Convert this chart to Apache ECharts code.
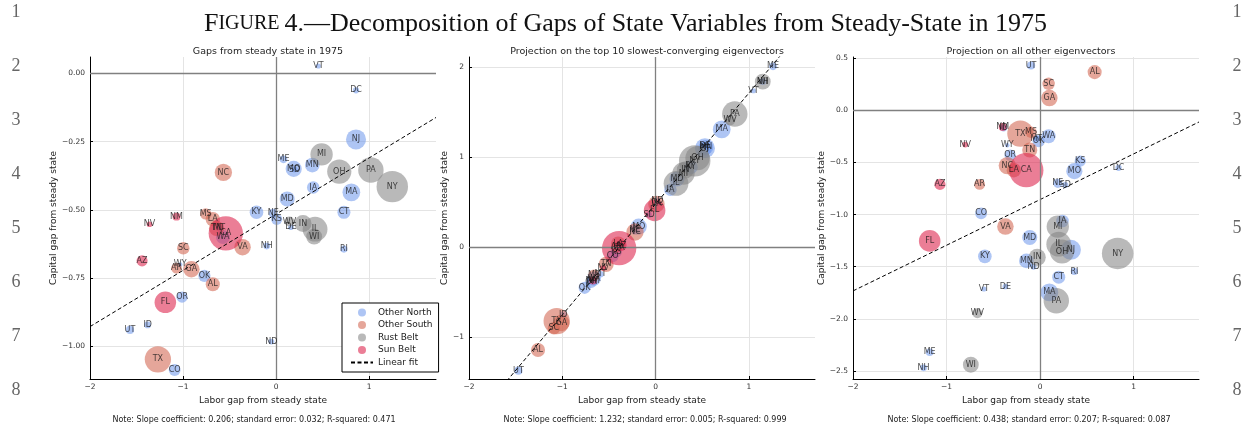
<!DOCTYPE html>
<html>
<head>
<meta charset="utf-8">
<script src="https://cdn.jsdelivr.net/npm/echarts@6/dist/echarts.min.js"></script>
<style>
html, body { margin: 0; padding: 0; background: #fff; }
#chart { width: 1251px; height: 426px; }
</style>
</head>
<body>
<div id="chart"></div>
<script>
// States (48 contiguous + DC), in a fixed order shared by every array below
const states = ['AL','AZ','AR','CA','CO','CT','DE','DC','FL','GA','ID','IL','IN','IA','KS','KY','LA','ME','MD','MA',
  'MI','MN','MS','MO','MT','NE','NV','NH','NJ','NM','NY','NC','ND','OH','OK','OR','PA','RI','SC','SD',
  'TN','TX','UT','VT','VA','WA','WV','WI','WY'];

// N = Other North, S = Other South, R = Rust Belt, B = Sun Belt
const regionCode = ['S','B','S','B','N','N','N','N','B','S','N','R','R','N','N','N','S','N','N','N',
  'R','N','S','N','N','N','B','N','N','B','R','S','N','R','N','N','R','N','S','N',
  'S','S','N','N','S','N','R','R','N'];

// Population in 1975, millions (bubble area)
const pop1975 = [3.62,2.25,2.12,21.5,2.54,3.10,0.58,0.71,8.5,4.93,0.82,11.2,5.31,2.87,2.28,3.40,3.79,1.06,4.12,5.76,
  9.11,3.93,2.35,4.77,0.75,1.54,0.59,0.81,7.33,1.15,18.1,5.45,0.63,10.7,2.71,2.29,11.8,0.93,2.82,0.68,
  4.17,12.6,1.21,0.47,4.97,3.56,1.80,4.58,0.37];

// Panel 1: gaps from steady state in 1975
const gapLabor = [-0.68,-1.44,-1.07,-0.54,-1.09,0.73,0.16,0.86,-1.19,-0.91,-1.38,0.42,0.29,0.40,0.007,-0.21,-0.68,0.08,0.12,0.81,
  0.49,0.39,-0.756,0.19,-0.61,-0.03,-1.36,-0.10,0.86,-1.07,1.25,-0.566,-0.05,0.68,-0.77,-1.01,1.02,0.73,-0.997,0.20,
  -0.64,-1.27,-1.57,0.455,-0.36,-0.57,0.145,0.41,-1.03];
const gapCapital = [-0.773,-0.687,-0.714,-0.586,-1.087,-0.509,-0.564,-0.062,-0.839,-0.718,-0.922,-0.571,-0.55,-0.418,-0.535,-0.509,-0.534,-0.315,-0.46,-0.436,
  -0.297,-0.336,-0.515,-0.35,-0.568,-0.513,-0.553,-0.633,-0.242,-0.525,-0.415,-0.363,-0.983,-0.36,-0.742,-0.82,-0.354,-0.644,-0.641,-0.352,
  -0.568,-1.048,-0.94,0.027,-0.637,-0.60,-0.543,-0.598,-0.70];

// Panel 2: projection on the top 10 slowest-converging eigenvectors
const slowLabor = [-1.26,-0.37,-0.42,-0.39,-0.46,0.53,0.53,0.02,-0.01,-1.01,-0.99,0.22,0.32,0.16,-0.42,0.38,-0.40,1.26,0.23,0.71,
  0.30,0.54,-0.66,-0.18,-0.59,-0.22,-0.56,1.15,0.53,-0.67,0.42,-0.22,0.02,0.45,-0.76,-0.69,0.85,0.36,-1.09,-0.07,
  -0.53,-1.06,-1.47,1.05,0.01,-0.66,0.80,1.15,-0.68];
const slowCapital = [-1.14,0.02,0.00,-0.01,-0.10,1.09,1.13,0.49,0.41,-0.84,-0.75,0.71,0.86,0.64,-0.05,0.89,0.04,2.01,0.76,1.31,
  0.82,1.11,-0.31,0.23,-0.30,0.19,-0.23,1.84,1.10,-0.37,0.96,0.17,0.52,0.99,-0.45,-0.39,1.48,0.90,-0.90,0.36,
  -0.19,-0.82,-1.37,1.74,0.48,-0.35,1.41,1.84,-0.37];

// Panel 3: projection on all other eigenvectors
const otherLabor = [0.584,-1.07,-0.646,-0.147,-0.63,0.20,-0.37,0.84,-1.18,0.10,-0.39,0.20,-0.03,0.24,0.43,-0.59,-0.28,-1.18,-0.11,0.10,
  0.19,-0.146,-0.096,0.367,-0.04,0.19,-0.80,-1.245,0.33,-0.40,0.83,-0.35,-0.07,0.235,-0.015,-0.32,0.174,0.367,0.092,0.27,
  -0.11,-0.21,-0.096,-0.60,-0.37,0.092,-0.67,-0.74,-0.35];
const otherCapital = [0.367,-0.71,-0.71,-0.574,-0.988,-1.60,-1.69,-0.551,-1.252,0.118,-0.17,-1.284,-1.41,-1.061,-0.487,-1.40,-0.574,-2.32,-1.22,-1.746,
  -1.115,-1.444,-0.21,-0.583,-0.27,-0.70,-0.328,-2.47,-1.338,-0.159,-1.373,-0.53,-1.50,-1.354,-0.296,-0.43,-1.826,-1.545,0.255,-0.716,
  -0.38,-0.223,0.43,-1.714,-1.115,-0.248,-1.947,-2.44,-0.335];

const regionNames = ['Other North','Other South','Rust Belt','Sun Belt'];
const regionCodes = ['N','S','R','B'];

const panelTitles = ['Gaps from steady state in 1975',
  'Projection on the top 10 slowest-converging eigenvectors',
  'Projection on all other eigenvectors'];
const slopes = [0.206, 1.232, 0.438];
const stdErrors = ['0.032', '0.005', '0.207'];
const rSquared = ['0.471', '0.999', '0.087'];
const intercepts = [-0.516, 0.48, -0.856];

const xTicks = [-2, -1, 0, 1];
const yTicks1 = [-1, -0.75, -0.5, -0.25, 0];
const yTicks2 = [-1, 0, 1, 2];
const yTicks3 = [-2.5, -2, -1.5, -1, -0.5, 0, 0.5];

const lineNumbers = ['1','2','3','4','5','6','7','8'];

// ---------- drawing ----------
const regionColors = {
  'Other North': 'rgba(110,152,236,0.70)',
  'Other South': 'rgba(210,100,80,0.72)',
  'Rust Belt':   'rgba(130,130,130,0.70)',
  'Sun Belt':    'rgba(222,40,80,0.75)'
};

const panels = [
  { lab: gapLabor,   cap: gapCapital,   yTicks: yTicks1, dec: 2, xMax: 1.72, yMin: -1.12,  yMax: 0.06,  left: 90,  nameGap: 32 },
  { lab: slowLabor,  cap: slowCapital,  yTicks: yTicks2, dec: 0, xMax: 1.71, yMin: -1.463, yMax: 2.114, left: 469, nameGap: 18 },
  { lab: otherLabor, cap: otherCapital, yTicks: yTicks3, dec: 1, xMax: 1.70, yMin: -2.577, yMax: 0.512, left: 853, nameGap: 22 }
];
const gridTop = 57, gridW = 346, gridH = 322;
const FONT = 'DejaVu Sans';
const DASH = [4, 2.5];

function fmt(dec) {
  return v => {
    const s = Math.abs(v).toFixed(dec);
    return (v < -1e-9 ? '\u2212' : '') + s;
  };
}

const grids = [], xAxes = [], yAxes = [], series = [], titles = [];
const bubble = p => 2 * 3.7 * Math.sqrt(p);

panels.forEach((pn, k) => {
  grids.push({ left: pn.left, top: gridTop, width: gridW, height: gridH, containLabel: false });
  const common = {
    type: 'value',
    gridIndex: k,
    axisLine: { show: true, onZero: false, lineStyle: { color: '#000', width: 1 } },
    splitLine: { show: true, lineStyle: { color: '#e4e4e4', width: 1 } },
    nameLocation: 'middle',
    nameTextStyle: { fontFamily: FONT, fontSize: 9, color: '#222' }
  };
  xAxes.push(Object.assign({}, common, {
    min: -2, max: pn.xMax,
    axisTick: { show: true, inside: true, length: 3, customValues: xTicks, lineStyle: { color: '#000' } },
    axisLabel: { customValues: xTicks, formatter: fmt(0), fontFamily: FONT, fontSize: 7.5, color: '#333', margin: 4 },
    name: 'Labor gap from steady state', nameGap: 13
  }));
  yAxes.push(Object.assign({}, common, {
    min: pn.yMin, max: pn.yMax,
    axisTick: { show: true, inside: true, length: 3, customValues: pn.yTicks, lineStyle: { color: '#000' } },
    axisLabel: { customValues: pn.yTicks, formatter: fmt(pn.dec), fontFamily: FONT, fontSize: 7.5, color: '#333', margin: 5 },
    name: 'Capital gap from steady state', nameGap: pn.nameGap, nameRotate: 90
  }));

  // zero reference lines
  series.push({
    type: 'scatter', name: 'zero-' + k, xAxisIndex: k, yAxisIndex: k, data: [], z: 1, silent: true,
    markLine: {
      silent: true, symbol: ['none', 'none'], label: { show: false },
      lineStyle: { color: '#808080', width: 1.3, type: 'solid' },
      data: [{ xAxis: 0 }, { yAxis: 0 }]
    }
  });

  // bubbles by region
  regionNames.forEach((rn, r) => {
    const data = [];
    states.forEach((s, i) => {
      if (regionCode[i] === regionCodes[r]) data.push([pn.lab[i], pn.cap[i], pop1975[i], s]);
    });
    series.push({
      type: 'scatter', name: rn, xAxisIndex: k, yAxisIndex: k, z: 2,
      data: data,
      symbolSize: v => bubble(v[2]),
      itemStyle: { color: regionColors[rn] },
      emphasis: { disabled: true }
    });
  });

  // state abbreviations on top
  series.push({
    type: 'scatter', name: 'labels-' + k, xAxisIndex: k, yAxisIndex: k, z: 5, silent: true,
    data: states.map((s, i) => [pn.lab[i], pn.cap[i], s]),
    symbolSize: 1,
    itemStyle: { color: 'rgba(0,0,0,0)' },
    label: {
      show: true, position: 'inside', formatter: p => p.data[2],
      fontFamily: FONT, fontSize: 8, color: '#1a1a1a'
    }
  });

  // fitted regression line
  const x0 = -2, x1 = pn.xMax;
  series.push({
    type: 'line', name: 'Linear fit', xAxisIndex: k, yAxisIndex: k, z: 4,
    symbol: 'none', silent: true, clip: true,
    data: [[x0, intercepts[k] + slopes[k] * x0], [x1, intercepts[k] + slopes[k] * x1]],
    lineStyle: { color: '#000', width: 1, type: DASH },
    itemStyle: { color: '#000' }
  });

  const cx = pn.left + gridW / 2;
  titles.push({
    text: panelTitles[k], left: cx, top: 42, textAlign: 'center',
    textStyle: { fontFamily: FONT, fontSize: 9.5, fontWeight: 'normal', color: '#222' }
  });
  titles.push({
    text: 'Note: Slope coefficient: ' + slopes[k].toFixed(3) + '; standard error: ' + stdErrors[k] + '; R-squared: ' + rSquared[k],
    left: cx - (k === 0 ? 14 : 2), top: 411, textAlign: 'center',
    textStyle: { fontFamily: FONT, fontSize: 8, fontWeight: 'normal', color: '#222' }
  });
});

titles.unshift({
  text: '{a|F}{b|IGURE} {a|4.\u2014Decomposition of Gaps of State Variables from Steady-State in 1975}',
  left: 'center', top: 6,
  textStyle: {
    fontWeight: 'normal',
    rich: {
      a: { fontFamily: 'Liberation Serif', fontSize: 26, fontWeight: 'normal', color: '#111' },
      b: { fontFamily: 'Liberation Serif', fontSize: 20, fontWeight: 'normal', color: '#111' }
    }
  }
});

const graphic = [];
lineNumbers.forEach((t, i) => {
  [16, 1237].forEach(x => {
    graphic.push({
      type: 'text', silent: true,
      style: {
        text: t, x: x, y: 12 + i * 54, textAlign: 'center', textVerticalAlign: 'middle',
        fontFamily: 'Liberation Serif', fontSize: 18, fill: '#666'
      }
    });
  });
});

const chart = echarts.init(document.getElementById('chart'), null, { renderer: 'canvas' });
chart.setOption({
  animation: false,
  backgroundColor: '#fff',
  title: titles,
  graphic: graphic,
  legend: {
    data: ['Other North', 'Other South', 'Rust Belt', 'Sun Belt',
      { name: 'Linear fit', itemStyle: { opacity: 0 } }],
    orient: 'vertical',
    left: 342, top: 303,
    padding: [5, 6, 5, 8],
    itemGap: 3.5,
    itemWidth: 22, itemHeight: 8,
    borderColor: '#000', borderWidth: 1,
    backgroundColor: '#fff',
    textStyle: { fontFamily: FONT, fontSize: 9, color: '#222' },
    selectedMode: false
  },
  grid: grids,
  xAxis: xAxes,
  yAxis: yAxes,
  series: series
});
</script>
</body>
</html>
